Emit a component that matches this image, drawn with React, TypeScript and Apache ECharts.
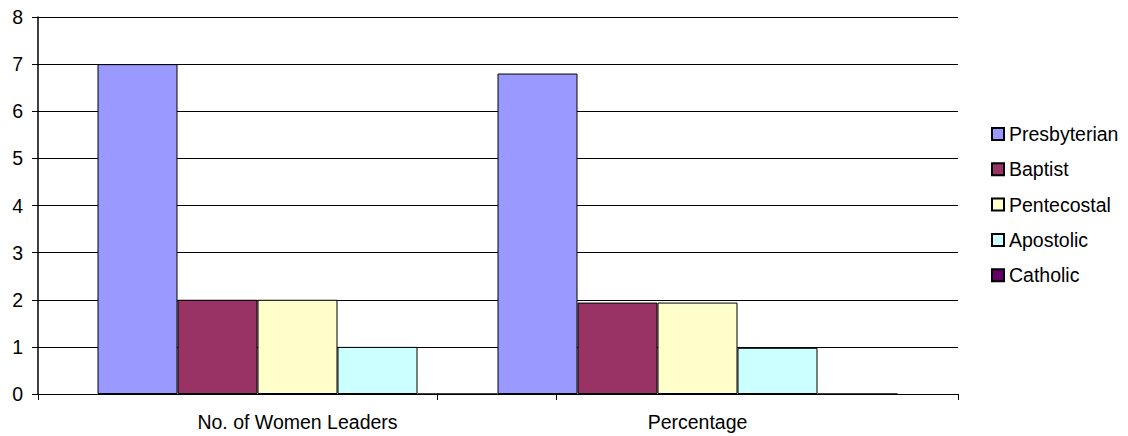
import React, { useEffect, useRef } from "react";
import * as echarts from "echarts";

const categories = ["No. of Women Leaders", "Percentage"];
const seriesNames = ["Presbyterian", "Baptist", "Pentecostal", "Apostolic", "Catholic"];
const presbyterian = [7, 6.8];
const baptist = [2, 1.94];
const pentecostal = [2, 1.94];
const apostolic = [1, 0.98];
const catholic = [0, 0];
const colors = ["#9999FF", "#993366", "#FFFFCC", "#CCFFFF", "#660066"];
const yTicks = [0, 1, 2, 3, 4, 5, 6, 7, 8];

const FONT = "'Liberation Sans', Arial, sans-serif";

export default function App() {
  const ref = useRef<HTMLDivElement>(null);
  useEffect(() => {
    if (!ref.current) return;
    const chart = echarts.init(ref.current, undefined, { renderer: "svg" });
    const values = [presbyterian, baptist, pentecostal, apostolic, catholic];
    chart.setOption({
      animation: false,
      backgroundColor: "#ffffff",
      textStyle: { fontFamily: FONT },
      grid: [
        { left: 38, right: 170, top: 17, bottom: 42 },
        { left: 97.5, right: 230.5, top: 17, bottom: 42 },
      ],
      xAxis: [
        {
          type: "value",
          gridIndex: 0,
          min: 0,
          max: 920,
          axisLine: { show: true, lineStyle: { color: "#000", width: 1 } },
          axisTick: { show: true, customValues: [0, 399, 518, 920], length: 6, lineStyle: { color: "#000" } },
          axisLabel: { show: false },
          splitLine: { show: false },
        },
        {
          type: "category",
          gridIndex: 1,
          data: categories,
          axisLine: { show: false },
          axisTick: { show: false },
          axisLabel: { show: true, margin: 18, fontSize: 19.5, color: "#000", fontFamily: FONT },
          splitLine: { show: false },
        },
      ],
      yAxis: [
        {
          type: "value",
          gridIndex: 0,
          min: 0,
          max: 8,
          interval: 1,
          axisLine: { show: true, lineStyle: { color: "#000", width: 1.5 } },
          axisTick: { show: true, length: 6, lineStyle: { color: "#000" } },
          axisLabel: {
            margin: 15,
            fontSize: 19.5,
            color: "#000",
            fontFamily: FONT,
            customValues: yTicks,
          },
          splitLine: { show: true, lineStyle: { color: "#000", width: 1 } },
        },
        {
          type: "value",
          gridIndex: 1,
          min: 0,
          max: 8,
          interval: 1,
          show: false,
          splitLine: { show: false },
        },
      ],
      legend: {
        orient: "vertical",
        left: 986,
        top: 119,
        itemWidth: 12,
        itemHeight: 12,
        itemGap: 15.3,
        icon: "rect",
        textStyle: { fontSize: 19.5, color: "#000", fontFamily: FONT },
        data: seriesNames,
      },
      series: seriesNames.map((name, i) => ({
        name,
        type: "bar",
        xAxisIndex: 1,
        yAxisIndex: 1,
        barWidth: 80,
        barGap: "0%",
        barCategoryGap: "0%",
        data: values[i],
        itemStyle: { color: colors[i], borderColor: "#000", borderWidth: 1 },
      })),
    });
    return () => chart.dispose();
  }, []);
  return (
    <div
      ref={ref}
      style={{ position: "fixed", left: 0, top: 0, width: 1128, height: 436 }}
    />
  );
}
